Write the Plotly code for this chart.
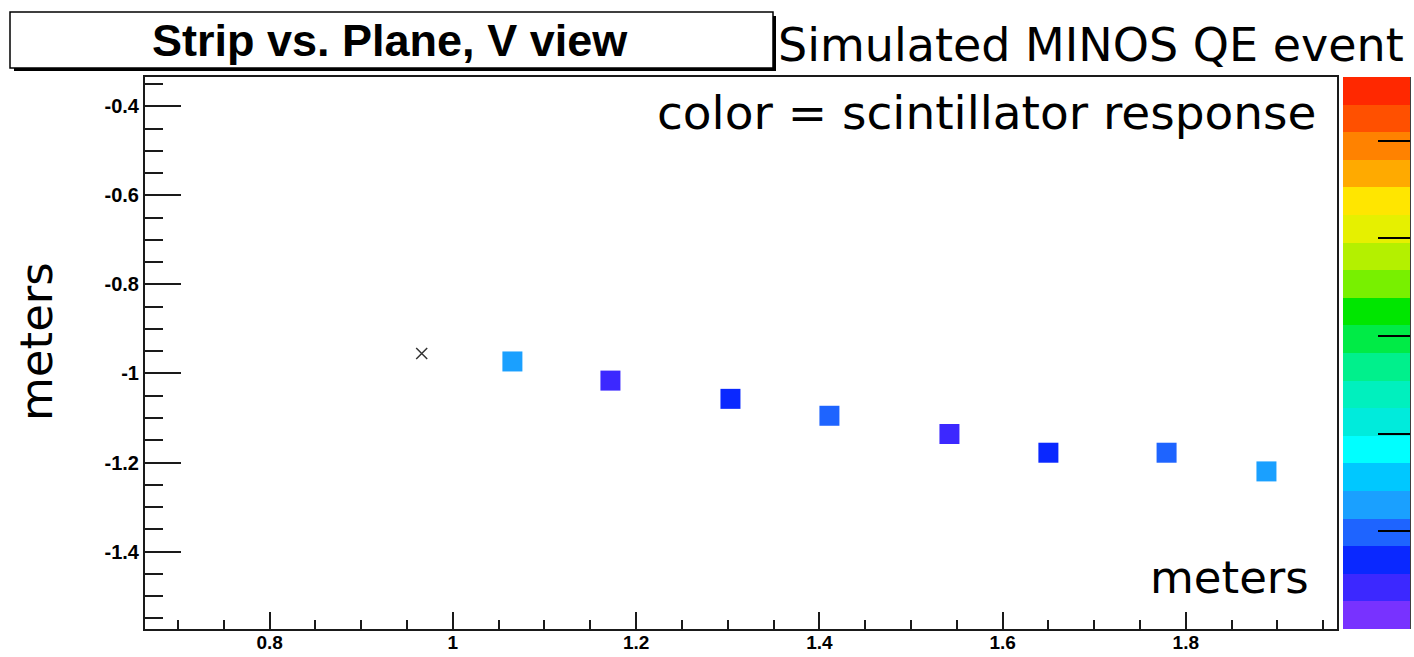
import plotly.graph_objects as go

# Hit positions in the V view (plane position vs strip position, metres)
plane_pos = [1.065, 1.172, 1.303, 1.411, 1.542, 1.650, 1.779, 1.888]
strip_pos = [-0.973, -1.016, -1.057, -1.095, -1.136, -1.178, -1.178, -1.220]
response = [1.27, 0.42, 0.70, 0.98, 0.45, 0.68, 1.01, 1.30]

# Event vertex
vertex_x = [0.966]
vertex_y = [-0.955]

# Palette of the response scale, bottom to top
palette = ["#7832ff", "#3c28ff", "#0a28ff", "#1e64ff", "#1aa0ff",
           "#00c8ff", "#00ffff", "#00ebdc", "#00f0be", "#00f08c",
           "#00eb46", "#00e600", "#78f000", "#b4f000", "#e6f000",
           "#ffe600", "#ffaa00", "#ff8200", "#ff5000", "#ff2800"]
cmin, cmax = 0.0, 5.65
cbar_ticks = [0, 1, 2, 3, 4, 5]

y_tickvals = [-0.4, -0.6, -0.8, -1.0, -1.2, -1.4]
y_ticktext = ["-0.4", "-0.6", "-0.8", "-1", "-1.2", "-1.4"]
x_tickvals = [0.8, 1.0, 1.2, 1.4, 1.6, 1.8]
x_ticktext = ["0.8", "1", "1.2", "1.4", "1.6", "1.8"]

FIG_W, FIG_H = 1414, 657
L, R, T, B = 145, 77, 77, 28
W = FIG_W - L - R
H = FIG_H - T - B


def px(x):
    return (x - L) / W


def py(y):
    return (FIG_H - B - y) / H


n = len(palette)
colorscale = []
for i, c in enumerate(palette):
    colorscale.append([i / n, c])
    colorscale.append([(i + 1) / n, c])

fig = go.Figure()

fig.add_trace(go.Scatter(
    x=plane_pos, y=strip_pos, mode="markers",
    marker=dict(symbol="square", size=20, color=response,
                colorscale=colorscale, cmin=cmin, cmax=cmax,
                line=dict(width=0),
                showscale=True,
                colorbar=dict(x=px(1343), xanchor="left", xpad=0,
                              y=0.5, yanchor="middle", len=1, ypad=0,
                              thickness=67, outlinewidth=0,
                              tickmode="array", tickvals=cbar_ticks,
                              ticks="inside", ticklen=32, tickwidth=2,
                              tickcolor="black", showticklabels=False)),
    showlegend=False, hoverinfo="x+y",
))

fig.add_trace(go.Scatter(
    x=vertex_x, y=vertex_y, mode="markers",
    marker=dict(symbol="x-thin-open", size=11, color="#333333",
                line=dict(width=1.5, color="#333333")),
    showlegend=False,
))

axis_common = dict(showgrid=False, zeroline=False, showline=True,
                   linecolor="#1a1a1a", linewidth=2, mirror=True,
                   ticks="inside", tickcolor="#1a1a1a", tickwidth=1.5,
                   tickmode="array")

fig.update_xaxes(range=[0.664, 1.965], tickvals=x_tickvals,
                 ticktext=x_ticktext, ticklen=17, ticklabelstandoff=-5,
                 tickfont=dict(family="Liberation Sans", size=19,
                               color="black", weight="bold"),
                 minor=dict(tickmode="linear", tick0=0, dtick=0.05,
                            ticks="inside", ticklen=9,
                            tickcolor="#1a1a1a", tickwidth=1.5),
                 **axis_common)
fig.update_yaxes(range=[-1.574, -0.334], tickvals=y_tickvals,
                 ticktext=y_ticktext, ticklen=36,
                 tickfont=dict(family="Liberation Sans", size=20,
                               color="black", weight="bold"),
                 minor=dict(tickmode="linear", tick0=0, dtick=0.05,
                            ticks="inside", ticklen=18,
                            tickcolor="#1a1a1a", tickwidth=1.5),
                 **axis_common)

shapes = [
    # title pave shadow and frame
    dict(type="rect", xref="paper", yref="paper",
         x0=px(14), x1=px(776), y0=py(71), y1=py(16),
         fillcolor="black", line=dict(width=0), layer="above"),
    dict(type="rect", xref="paper", yref="paper",
         x0=px(10), x1=px(773), y0=py(68), y1=py(12),
         fillcolor="white", line=dict(width=1.5, color="black"),
         layer="above"),
    # right edge of the colour scale
    dict(type="line", xref="paper", yref="paper",
         x0=px(1410), x1=px(1410), y0=0, y1=1,
         line=dict(width=1.5, color="black")),
]

annotations = [
    dict(text="Strip vs. Plane, V view", x=px(390), y=py(40),
         xref="paper", yref="paper", xanchor="center", yanchor="middle",
         showarrow=False,
         font=dict(family="Liberation Sans", size=45, color="black",
                   weight="bold")),
    dict(text="Simulated MINOS QE event", x=px(1406), y=py(45),
         xref="paper", yref="paper", xanchor="right", yanchor="middle",
         showarrow=False,
         font=dict(family="DejaVu Sans", size=46, color="black")),
    dict(text="color = scintillator response", x=px(1319), y=py(113),
         xref="paper", yref="paper", xanchor="right", yanchor="middle",
         showarrow=False,
         font=dict(family="DejaVu Sans", size=47, color="black")),
    dict(text="meters", x=px(1311), y=py(577),
         xref="paper", yref="paper", xanchor="right", yanchor="middle",
         showarrow=False,
         font=dict(family="DejaVu Sans", size=45, color="black")),
    dict(text="meters", x=px(36), y=py(341), textangle=-90,
         xref="paper", yref="paper", xanchor="center", yanchor="middle",
         showarrow=False,
         font=dict(family="DejaVu Sans", size=45, color="black")),
]

fig.update_layout(
    width=FIG_W, height=FIG_H,
    margin=dict(l=L, r=R, t=T, b=B, autoexpand=False),
    paper_bgcolor="white", plot_bgcolor="white",
    shapes=shapes, annotations=annotations,
)

fig.write_html("out.html")
